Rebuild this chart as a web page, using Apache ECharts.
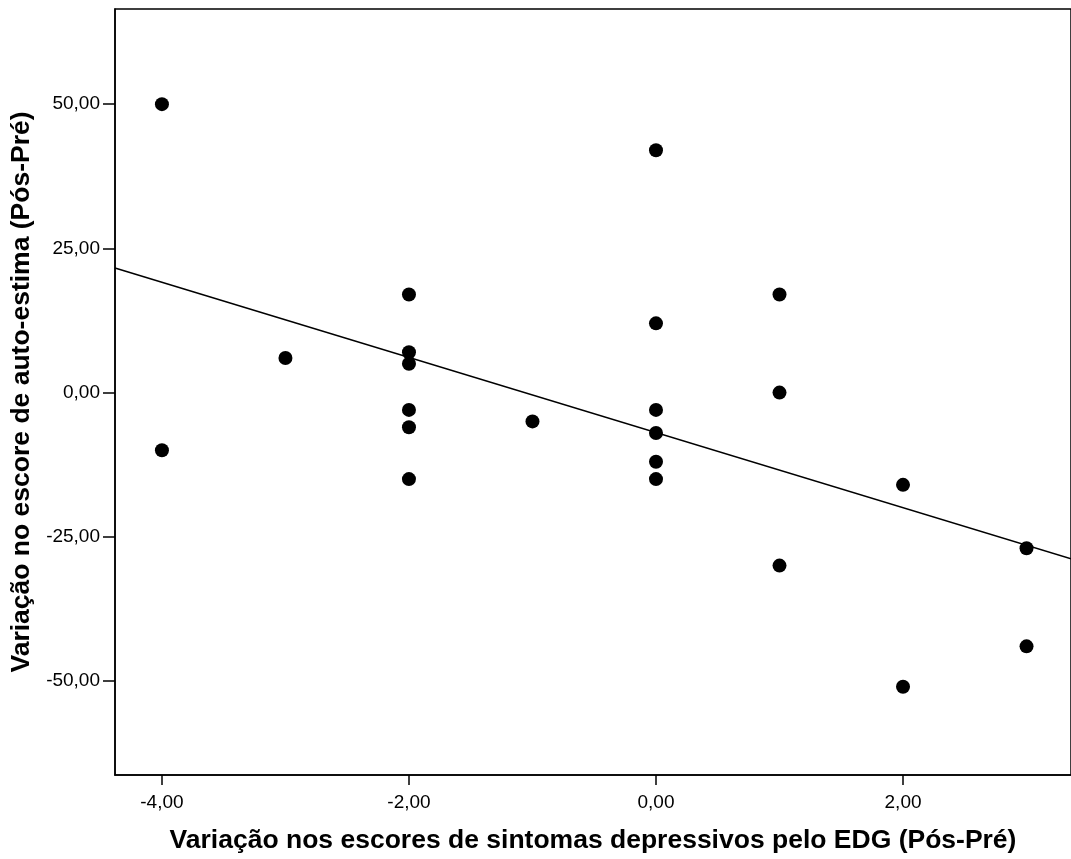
<!DOCTYPE html>
<html><head><meta charset="utf-8">
<script src="https://cdn.jsdelivr.net/npm/echarts@6/dist/echarts.min.js"></script>
<style>html,body{margin:0;padding:0;background:#fff}#c{width:1071px;height:859px}</style>
</head><body><div id="c"></div>
<script>
const xValues = [-4, -4, -3, -2, -2, -2, -2, -2, -2, -1, 0, 0, 0, 0, 0, 0, 1, 1, 1, 2, 2, 3, 3];
const yValues = [50, -10, 6, 17, 7, 5, -3, -6, -15, -5, 42, 12, -3, -7, -12, -15, 17, 0, -30, -16, -51, -27, -44];
const fitLine = [[-4.38, 21.6], [3.36, -28.8]];
const xTicks = [-4, -2, 0, 2];
const yTicks = [-50, -25, 0, 25, 50];
const xTitle = 'Variação nos escores de sintomas depressivos pelo EDG (Pós-Pré)';
const yTitle = 'Variação no escore de auto-estima (Pós-Pré)';

const fmt = v => v.toFixed(2).replace('.', ',');
const points = xValues.map((x, i) => [x, yValues[i]]);
const chart = echarts.init(document.getElementById('c'));
chart.setOption({
  animation: false,
  grid: { left: 115, top: 9, right: 0, bottom: 84, show: true, borderColor: '#000', borderWidth: 1.5 },
  xAxis: {
    type: 'value', min: -4.38, max: 3.36,
    name: xTitle, nameLocation: 'middle', nameGap: 52,
    nameTextStyle: { fontFamily: 'Liberation Sans', fontWeight: 'bold', fontSize: 26.5, color: '#000' },
    axisLine: { show: true, onZero: false, lineStyle: { color: '#000', width: 1.5 } },
    axisTick: { show: true, inside: false, length: 10, customValues: xTicks, lineStyle: { color: '#000', width: 1.5 } },
    axisLabel: { customValues: xTicks, formatter: fmt, fontFamily: 'Liberation Sans', fontSize: 19, color: '#000', margin: 18 },
    splitLine: { show: false }
  },
  yAxis: {
    type: 'value', min: -66.3, max: 66.5,
    name: yTitle, nameLocation: 'middle', nameGap: 71, nameRotate: 90,
    nameTextStyle: { fontFamily: 'Liberation Sans', fontWeight: 'bold', fontSize: 26.5, color: '#000' },
    axisLine: { show: true, onZero: false, lineStyle: { color: '#000', width: 1.5 } },
    axisTick: { show: true, inside: false, length: 12, customValues: yTicks, lineStyle: { color: '#000', width: 1.5 } },
    axisLabel: { customValues: yTicks, formatter: fmt, fontFamily: 'Liberation Sans', fontSize: 19, color: '#000', margin: 15 },
    splitLine: { show: false }
  },
  series: [
    { type: 'line', data: fitLine, symbol: 'none', lineStyle: { color: '#000', width: 1.5 }, z: 2 },
    { type: 'scatter', data: points, symbol: 'circle', symbolSize: 14, itemStyle: { color: '#000', opacity: 1 }, z: 3 }
  ]
});
</script></body></html>
